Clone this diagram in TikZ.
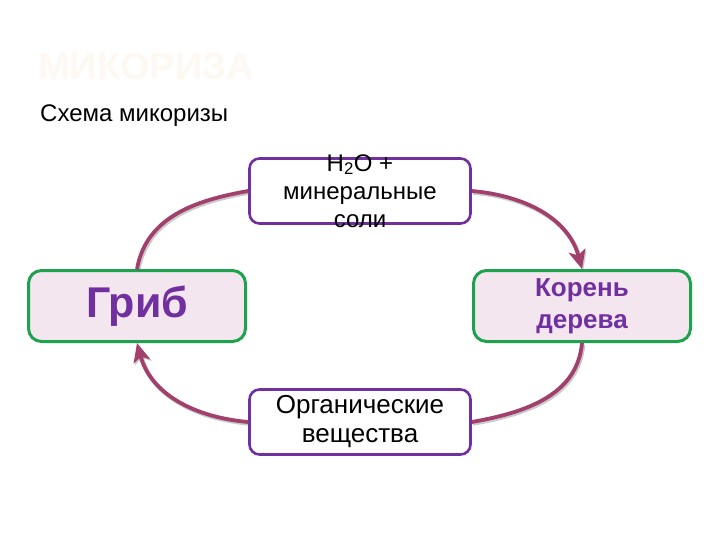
\documentclass[tikz,border=0pt]{standalone}
\usepackage{fontspec}
\setmainfont{Liberation Sans}
\usetikzlibrary{arrows.meta}
\definecolor{mpurple}{HTML}{7030A0}
\definecolor{mgreen}{HTML}{1FA24E}
\definecolor{mpink}{HTML}{F3E6EF}
\definecolor{marrow}{HTML}{A33F6C}
\definecolor{mtitle}{HTML}{FDF8F1}

\begin{document}
\begin{tikzpicture}[x=1pt, y=-1pt,
  partbox/.style={draw=mgreen, line width=3pt, fill=mpink, rounded corners=13pt,
    minimum width=217pt, minimum height=71pt, text=mpurple, align=center},
  flowbox/.style={draw=mpurple, line width=2.6pt, fill=white, rounded corners=10pt,
    minimum width=221pt, minimum height=65pt, align=center},
  flowline/.style={draw=marrow, line width=3.8pt,
    preaction={draw=black!60, opacity=0.35, line width=4.2pt, transform canvas={shift={(1.2pt,-1.6pt)}}}},
  flowtip/.style={-{Stealth[length=19pt, width=17pt, inset=5pt]}}]
\useasboundingbox (0,0) rectangle (720,540);
\node[anchor=base west, inner sep=0, text=mtitle, font=\bfseries\fontsize{38}{42}\selectfont] (title) at (38,80) {МИКОРИЗА};
\node[anchor=base west, inner sep=0, font=\fontsize{24}{28}\selectfont] (subtitle) at (40,122) {Схема микоризы};

\node[partbox, font=\bfseries\fontsize{43}{50}\selectfont] (grib) at (137,306) {Гриб};
\node[partbox, font=\bfseries\fontsize{26}{32}\selectfont] (koren) at (582,306) {Корень\\дерева};
\node[flowbox] (water) at (360,191) {};
\node[flowbox, font=\fontsize{26}{29}\selectfont] (organic) at (360,422) {Органические\\вещества};

% arrows of the cycle
\draw[flowline] (grib.north) to[out=80, in=190] (water.west);
\draw[flowline, flowtip] (water.east) to[out=-5, in=105] (koren.north);
\draw[flowline] (koren.south) to[out=-95, in=10] (organic.east);
\draw[flowline, flowtip] (organic.west) to[out=175, in=-75] (grib.south);

\node[font=\fontsize{24}{28}\selectfont, align=center] (watertext) at (water.center) {H\textsubscript{2}O +\\минеральные\\соли};
\end{tikzpicture}
\end{document}
